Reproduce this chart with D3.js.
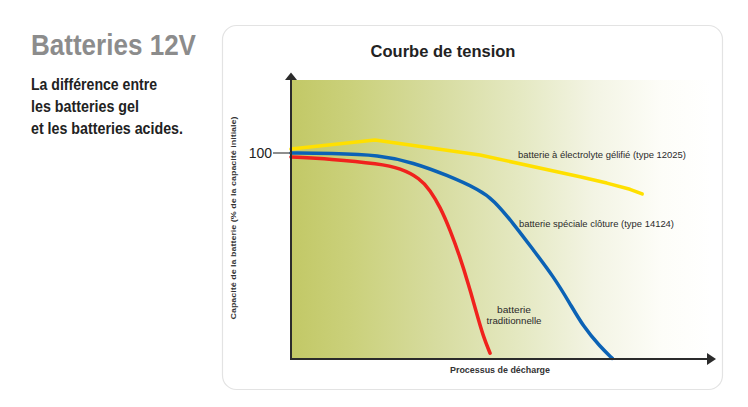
<!DOCTYPE html>
<html>
<head>
<meta charset="utf-8">
<script src="https://cdn.jsdelivr.net/npm/d3@7"></script>
<style>
  body { margin: 0; background: #fff; }
  svg { display: block; }
</style>
</head>
<body>
<svg id="chart" width="748" height="407"></svg>
<script>
// discharge curves, x = discharge progress (0-100), y = % of initial capacity
const gelCurve = [
  [0, 101.9], [20.0, 106.3], [45.0, 99.0], [68.8, 88.5], [75.2, 85.4], [80.7, 82.4], [83.6, 80.1]
];
const fenceCurve = [
  [0, 100], [9.3, 99.8], [21.2, 99.0], [29.1, 95.3], [37.1, 89.3], [45.0, 82.0],
  [48.2, 77.2], [52.9, 65.9], [57.7, 52.9], [62.5, 40.0], [66.4, 27.0],
  [69.6, 15.7], [73.6, 6.0], [76.5, 0.3]
];
const leadCurve = [
  [0, 98.1], [9.3, 97.1], [21.2, 94.7], [26.0, 92.6], [30.7, 87.7], [33.1, 82.0],
  [35.5, 73.9], [37.9, 62.6], [40.2, 49.7], [42.2, 36.7], [44.2, 22.2],
  [45.8, 10.8], [47.4, 2.8]
];
const yTicks = [100];
const subtitleLines = ["La différence entre", "les batteries gel", "et les batteries acides."];

const svg = d3.select("#chart");
const font = "'Liberation Sans', Arial, Helvetica, sans-serif";

// left text block
svg.append("text")
    .attr("x", 31).attr("y", 55)
    .attr("font-family", font).attr("font-weight", "bold")
    .attr("font-size", 29).attr("fill", "#8c8c8c")
    .attr("textLength", 165).attr("lengthAdjust", "spacingAndGlyphs")
    .text("Batteries 12V");

const subLen = [126, 108, 152];
subtitleLines.forEach((t, i) => {
  svg.append("text")
      .attr("x", 31).attr("y", 90 + i * 22)
      .attr("font-family", font).attr("font-weight", "bold")
      .attr("font-size", 16).attr("fill", "#222")
      .attr("textLength", subLen[i]).attr("lengthAdjust", "spacingAndGlyphs")
      .text(t);
});

// card
svg.append("rect")
    .attr("x", 222.5).attr("y", 25.5)
    .attr("width", 500).attr("height", 364)
    .attr("rx", 14)
    .attr("fill", "#fff")
    .attr("stroke", "#e3e3e3").attr("stroke-width", 1.2);

svg.append("text")
    .attr("x", 443).attr("y", 57)
    .attr("text-anchor", "middle")
    .attr("font-family", font).attr("font-weight", "bold")
    .attr("font-size", 16.5).attr("fill", "#222")
    .text("Courbe de tension");

// scales
const x = d3.scaleLinear().domain([0, 100]).range([291, 711]);
const y = d3.scaleLinear().domain([0, 100]).range([359, 153]);

// background gradient
const defs = svg.append("defs");
const grad = defs.append("linearGradient").attr("id", "bg").attr("x1", 0).attr("x2", 1).attr("y1", 0).attr("y2", 0);
[[0, "#c2c866"], [0.15, "#cbd17c"], [0.35, "#d7dca0"], [0.55, "#e5e9c3"], [0.72, "#f3f4e4"], [0.88, "#fdfdf8"], [1, "#ffffff"]]
  .forEach(s => grad.append("stop").attr("offset", s[0]).attr("stop-color", s[1]));

svg.append("rect")
    .attr("x", x(0)).attr("y", 80)
    .attr("width", 712 - x(0)).attr("height", y(0) - 80)
    .attr("fill", "url(#bg)");

// curves
const line = d3.line().x(d => x(d[0])).y(d => y(d[1]));
const series = [
  { data: gelCurve, color: "#ffe000", curve: d3.curveLinear },
  { data: fenceCurve, color: "#0b62b5", curve: d3.curveBasis },
  { data: leadCurve, color: "#f0221d", curve: d3.curveBasis }
];
series.forEach(s => {
  svg.append("path")
      .attr("d", line.curve(s.curve)(s.data))
      .attr("fill", "none")
      .attr("stroke", s.color)
      .attr("stroke-width", 3.5)
      .attr("stroke-linejoin", "round")
      .attr("stroke-linecap", "round");
});

// axes
const axisColor = "#2b2b2b";
svg.append("line")
    .attr("x1", x(0)).attr("x2", x(0))
    .attr("y1", 78).attr("y2", y(0) + 1)
    .attr("stroke", axisColor).attr("stroke-width", 2);
svg.append("line")
    .attr("x1", x(0) - 1).attr("x2", 710)
    .attr("y1", y(0)).attr("y2", y(0))
    .attr("stroke", axisColor).attr("stroke-width", 2);
svg.append("path")
    .attr("d", `M${x(0) - 6},80 L${x(0)},72.5 L${x(0) + 6},80 Z`)
    .attr("fill", axisColor);
svg.append("path")
    .attr("d", `M707,${y(0) - 6} L716,${y(0)} L707,${y(0) + 6} Z`)
    .attr("fill", axisColor);

yTicks.forEach(t => {
  svg.append("line")
      .attr("x1", 273).attr("x2", x(0))
      .attr("y1", y(t)).attr("y2", y(t))
      .attr("stroke", "#444").attr("stroke-width", 1.2);
  svg.append("text")
      .attr("x", 272).attr("y", y(t) + 5)
      .attr("text-anchor", "end")
      .attr("font-family", font).attr("font-size", 14)
      .attr("fill", "#222")
      .text(t);
});

// axis titles
svg.append("text")
    .attr("transform", "translate(236,218) rotate(-90)")
    .attr("text-anchor", "middle")
    .attr("font-family", font).attr("font-weight", "bold")
    .attr("font-size", 8).attr("fill", "#333")
    .attr("textLength", 203).attr("lengthAdjust", "spacingAndGlyphs")
    .text("Capacité de la batterie (% de la capacité initiale)");

svg.append("text")
    .attr("x", 500).attr("y", 373)
    .attr("text-anchor", "middle")
    .attr("font-family", font).attr("font-weight", "bold")
    .attr("font-size", 8.5).attr("fill", "#333")
    .attr("textLength", 100).attr("lengthAdjust", "spacingAndGlyphs")
    .text("Processus de décharge");

// series labels
const lbl = (tx, ty, t, len, anchor) => svg.append("text")
    .attr("x", tx).attr("y", ty)
    .attr("text-anchor", anchor || "start")
    .attr("font-family", font).attr("font-size", 8.8)
    .attr("fill", "#2a2a2a")
    .attr("textLength", len).attr("lengthAdjust", "spacingAndGlyphs")
    .text(t);
lbl(518, 158, "batterie à électrolyte gélifié (type 12025)", 168);
lbl(519, 227, "batterie spéciale clôture (type 14124)", 155);
lbl(514, 313, "batterie", 34, "middle");
lbl(514, 324, "traditionnelle", 55, "middle");
</script>
</body>
</html>
